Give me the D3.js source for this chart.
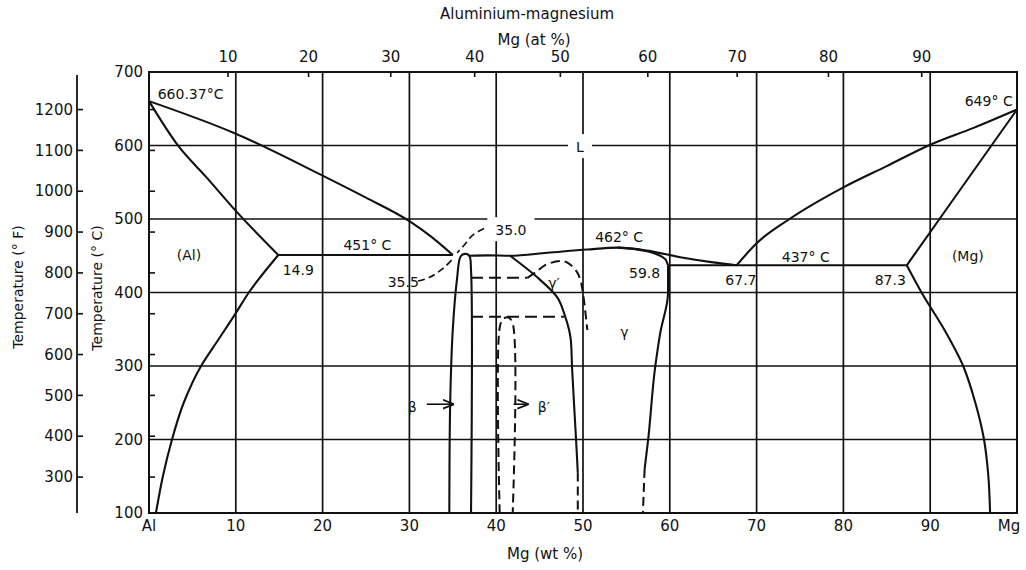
<!DOCTYPE html>
<html>
<head>
<meta charset="utf-8">
<script src="https://cdn.jsdelivr.net/npm/d3@7"></script>
<style>
  body { margin: 0; background: #fff; }
  text { font-family: "DejaVu Sans", sans-serif; fill: #111; }
</style>
</head>
<body>
<div id="chart"></div>
<script>
// Aluminium-magnesium phase diagram

// axis values
var wtTicks = [0, 10, 20, 30, 40, 50, 60, 70, 80, 90, 100];
var wtLabels = ["Al", "10", "20", "30", "40", "50", "60", "70", "80", "90", "Mg"];
var atTicks = [10, 20, 30, 40, 50, 60, 70, 80, 90];
var celsiusTicks = [100, 200, 300, 400, 500, 600, 700];
var celsiusGrid = [200, 300, 400, 500, 600];
var fahrenheitTicks = [300, 400, 500, 600, 700, 800, 900, 1000, 1100, 1200];

// phase boundaries [wt% Mg, deg C]
var alLiquidus = [[0, 660.37], [10, 616], [20, 559], [25, 529], [30, 497], [32.5, 476], [35, 451]];
var alSolidus = [[0, 660.37], [3.4, 599], [6.6, 557], [10, 511], [14.9, 451]];
var alSolvus = [[14.9, 451], [11.5, 400], [10, 372], [8, 336], [6, 300], [4, 250], [2.65, 200], [1.6, 150], [0.8, 100]];
var eutecticLeft = [[14.9, 451], [35, 451]];
var betaPhase = [[34.6, 100], [34.7, 250], [35.0, 350], [35.5, 420], [35.9, 449], [36.4, 452.5], [36.9, 450], [37.1, 430], [37.1, 100]];
var gammaLiquidus = [[36.9, 450], [39, 450.5], [41.6, 450], [45.9, 454], [50.5, 458.5], [54, 461], [57.4, 457], [61.2, 448], [65, 441], [67.7, 437]];
var gammaSolidus = [[54, 461], [56.5, 458], [58.5, 452], [59.5, 445], [59.8, 437]];
var gammaSolvusLeft = [[41.6, 450], [44.7, 421], [47, 394], [47.9, 369], [48.6, 335], [48.75, 295], [49.2, 200], [49.4, 155]];
var gammaSolvusLeftLow = [[49.4, 155], [49.4, 100]];
var gammaSolvusRight = [[59.8, 437], [59.8, 400], [58.9, 345], [58.3, 297], [57.5, 199], [57.1, 160]];
var gammaSolvusRightLow = [[57.1, 160], [56.9, 100]];
var eutecticRight = [[59.8, 437], [87.3, 437]];
var mgLiquidus = [[100, 649], [95, 624], [90, 601], [85, 572], [80, 543], [73.8, 500], [70, 467], [67.7, 437]];
var mgSolidus = [[100, 649], [97.06, 600], [91.07, 500], [87.3, 437]];
var mgSolvus = [[87.3, 437], [89, 400], [91.6, 350], [93.8, 300], [95.2, 250], [96.2, 200], [96.7, 150], [96.9, 100]];

// dashed (ordering) boundaries
var betaPrime = [[40.4, 100], [40.4, 352], [40.8, 364], [41.4, 366], [41.9, 358], [41.9, 100]];
var gammaPrime = [[43.6, 420], [44.6, 428], [45.6, 437], [47.4, 443], [48.3, 440], [49.3, 428], [49.7, 417], [50, 399], [50.5, 349]];
var dashedUpper = [[37.1, 420], [43.6, 420]];
var dashedLower = [[37.1, 367], [47.8, 367]];

// annotations [text, wt%, deg C]
var notes = [
  ["660.37°C", 1.0, 663], ["649° C", 99.5, 654], ["451° C", 22.4, 458], ["462° C", 51.4, 469],
  ["437° C", 72.9, 441.5], ["14.9", 15.4, 424], ["59.8", 55.3, 420], ["67.7", 66.4, 410],
  ["87.3", 83.6, 410], ["35.0", 39.9, 478], ["35.5", 27.5, 407.5], ["(Al)", 3.2, 444],
  ["(Mg)", 92.5, 443], ["L", 49.2, 591], ["γ", 54.3, 339.5], ["γ′", 46.0, 406],
  ["β", 29.8, 237], ["β′", 44.8, 237]
];
var leader350 = [[38.6, 487], [37.3, 478], [36.2, 463], [35.5, 454]];
var leader355 = [[31.0, 415.6], [32.4, 421], [34.0, 434], [35.1, 447]];
var betaArrow = [[32.0, 248], [35.0, 248]];
var betaPrimeArrow = [[42.0, 248], [43.6, 248]];

var svgWidth = 1026;
var svgHeight = 570;
var plot = { left: 149, right: 1017, top: 72, bottom: 513 };

var svg = d3.select("#chart").append("svg")
  .attr("width", svgWidth)
  .attr("height", svgHeight)
  .style("background", "#fff");

var defs = svg.append("defs");
defs.append("marker")
  .attr("id", "arrow")
  .attr("viewBox", "0 0 10 10")
  .attr("refX", 9).attr("refY", 5)
  .attr("markerWidth", 7).attr("markerHeight", 7)
  .attr("orient", "auto")
  .append("path").attr("d", "M0,1 L10,5 L0,9").attr("fill", "none").attr("stroke", "#111").attr("stroke-width", 1.6);

var x = d3.scaleLinear().domain([0, 100]).range([plot.left, plot.right]);
var y = d3.scaleLinear().domain([100, 700]).range([plot.bottom, plot.top]);
var yF = function(f) { return y((f - 32) * 5 / 9); };
// atomic % Mg -> weight % Mg
var atToWt = function(a) { return 100 * a * 24.305 / (a * 24.305 + (100 - a) * 26.982); };

// grid
svg.append("g").selectAll("line").data(wtTicks.slice(1, -1)).enter().append("line")
  .attr("x1", d => x(d)).attr("x2", d => x(d))
  .attr("y1", plot.top).attr("y2", plot.bottom)
  .attr("stroke", "#111").attr("stroke-width", 1.7);
svg.append("g").selectAll("line").data(celsiusGrid).enter().append("line")
  .attr("x1", plot.left).attr("x2", plot.right)
  .attr("y1", d => y(d)).attr("y2", d => y(d))
  .attr("stroke", "#111").attr("stroke-width", 1.7);

// frame
svg.append("rect")
  .attr("x", plot.left).attr("y", plot.top)
  .attr("width", plot.right - plot.left).attr("height", plot.bottom - plot.top)
  .attr("fill", "none").attr("stroke", "#111").attr("stroke-width", 2);

// Celsius axis labels
svg.append("g").selectAll("text").data(celsiusTicks).enter().append("text")
  .attr("x", 143).attr("y", d => y(d)).attr("dy", "0.35em")
  .attr("text-anchor", "end").style("font-size", "15px")
  .text(d => d);

// Fahrenheit ticks on the frame
svg.append("g").selectAll("line").data(fahrenheitTicks).enter().append("line")
  .attr("x1", plot.left).attr("x2", plot.left + 6)
  .attr("y1", d => yF(d)).attr("y2", d => yF(d))
  .attr("stroke", "#111").attr("stroke-width", 1.6);

// Fahrenheit axis
svg.append("line")
  .attr("x1", 77).attr("x2", 77).attr("y1", 75).attr("y2", plot.bottom)
  .attr("stroke", "#111").attr("stroke-width", 1.8);
svg.append("g").selectAll("line").data(fahrenheitTicks).enter().append("line")
  .attr("x1", 77).attr("x2", 83)
  .attr("y1", d => yF(d)).attr("y2", d => yF(d))
  .attr("stroke", "#111").attr("stroke-width", 1.6);
svg.append("g").selectAll("text").data(fahrenheitTicks).enter().append("text")
  .attr("x", 73).attr("y", d => yF(d)).attr("dy", "0.35em")
  .attr("text-anchor", "end").style("font-size", "15px")
  .text(d => d);

// top at% axis
svg.append("g").selectAll("line").data(atTicks).enter().append("line")
  .attr("x1", d => x(atToWt(d))).attr("x2", d => x(atToWt(d)))
  .attr("y1", plot.top).attr("y2", plot.top + 5)
  .attr("stroke", "#111").attr("stroke-width", 1.6);
svg.append("g").selectAll("text").data(atTicks).enter().append("text")
  .attr("x", d => x(atToWt(d))).attr("y", 62)
  .attr("text-anchor", "middle").style("font-size", "15px")
  .text(d => d);

// bottom wt% labels
svg.append("g").selectAll("text").data(wtTicks).enter().append("text")
  .attr("x", (d, i) => i === wtTicks.length - 1 ? x(d) - 8 : x(d)).attr("y", 531)
  .attr("text-anchor", "middle").style("font-size", "15px")
  .text((d, i) => wtLabels[i]);

// titles
svg.append("text").attr("x", 527).attr("y", 19).attr("text-anchor", "middle")
  .style("font-size", "15px").text("Aluminium-magnesium");
svg.append("text").attr("x", 534).attr("y", 45).attr("text-anchor", "middle")
  .style("font-size", "15px").text("Mg (at %)");
svg.append("text").attr("x", 545).attr("y", 559).attr("text-anchor", "middle")
  .style("font-size", "15px").text("Mg (wt %)");
svg.append("text").attr("transform", "translate(23,287) rotate(-90)").attr("text-anchor", "middle")
  .style("font-size", "14px").text("Temperature (° F)");
svg.append("text").attr("transform", "translate(102,288) rotate(-90)").attr("text-anchor", "middle")
  .style("font-size", "14px").text("Temperature (° C)");

var lineWith = function(c) {
  return d3.line().x(d => x(d[0])).y(d => y(d[1])).curve(c);
};
var curveX = lineWith(d3.curveMonotoneX);
var curveY = lineWith(d3.curveMonotoneY);
var curveFree = lineWith(d3.curveCatmullRom.alpha(0.5));
var straight = lineWith(d3.curveLinear);

var solid = [
  [alLiquidus, curveX], [alSolidus, curveX], [alSolvus, curveY], [betaPhase, curveFree],
  [gammaLiquidus, curveX], [gammaSolidus, curveX], [gammaSolvusLeft, curveY], [gammaSolvusRight, curveY],
  [mgLiquidus, curveX], [mgSolidus, straight], [mgSolvus, curveY],
  [eutecticLeft, straight], [eutecticRight, straight]
];
svg.append("g").selectAll("path").data(solid).enter().append("path")
  .attr("d", d => d[1](d[0])).attr("fill", "none").attr("stroke", "#111").attr("stroke-width", 2.1);

var dashed = [
  [betaPrime, curveFree], [gammaPrime, curveFree], [gammaSolvusLeftLow, straight], [gammaSolvusRightLow, straight]
];
svg.append("g").selectAll("path").data(dashed).enter().append("path")
  .attr("d", d => d[1](d[0])).attr("fill", "none").attr("stroke", "#111").attr("stroke-width", 2)
  .attr("stroke-dasharray", "9,5");
svg.append("g").selectAll("path").data([dashedUpper, dashedLower]).enter().append("path")
  .attr("d", straight).attr("fill", "none").attr("stroke", "#111").attr("stroke-width", 2)
  .attr("stroke-dasharray", "12,6");

// labels (white box behind the ones sitting on grid lines)
var labels = svg.append("g").selectAll("g").data(notes).enter().append("g");
labels.append("text")
  .attr("x", d => x(d[1])).attr("y", d => y(d[2]))
  .style("font-size", "14px")
  .text(d => d[0]);
labels.filter(d => d[0] === "649° C").select("text").attr("text-anchor", "end");
labels.filter(d => d[0] === "L" || d[0] === "35.0").each(function() {
  var g = d3.select(this);
  var b = g.select("text").node().getBBox();
  g.insert("rect", "text").attr("x", b.x - 8).attr("y", b.y - 5)
    .attr("width", b.width + 16).attr("height", b.height + 8).attr("fill", "#fff");
});

// leaders and arrows
svg.append("path").datum(leader350).attr("d", curveFree).attr("fill", "none")
  .attr("stroke", "#111").attr("stroke-width", 1.6).attr("stroke-dasharray", "7,4");
svg.append("path").datum(leader355).attr("d", curveFree).attr("fill", "none")
  .attr("stroke", "#111").attr("stroke-width", 1.6).attr("stroke-dasharray", "7,4");
svg.append("path").datum(betaArrow).attr("d", straight).attr("fill", "none")
  .attr("stroke", "#111").attr("stroke-width", 1.6).attr("marker-end", "url(#arrow)");
svg.append("path").datum(betaPrimeArrow).attr("d", straight).attr("fill", "none")
  .attr("stroke", "#111").attr("stroke-width", 1.6).attr("marker-end", "url(#arrow)");
</script>
</body>
</html>
